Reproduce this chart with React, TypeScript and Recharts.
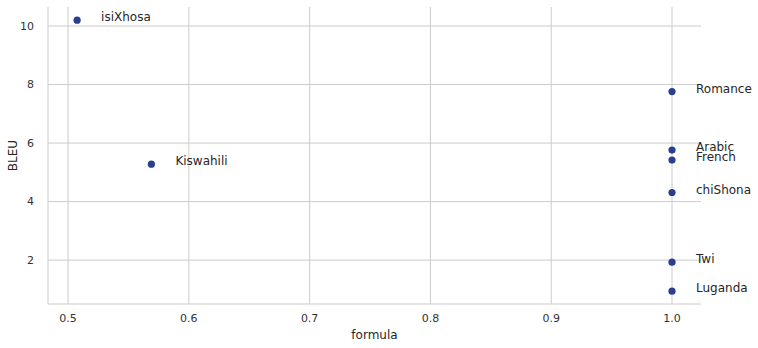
import { ReferenceLine, Scatter, ScatterChart, XAxis, YAxis } from "recharts"

// languages and their scores
const languages = ["isiXhosa", "Kiswahili", "Romance", "Arabic", "French", "chiShona", "Twi", "Luganda"]
const formulaValues = [0.5075, 0.569, 1.0, 1.0, 1.0, 1.0, 1.0, 1.0]
const bleuValues = [10.2, 5.28, 7.76, 5.76, 5.42, 4.31, 1.93, 0.94]
const xTicks = [0.5, 0.6, 0.7, 0.8, 0.9, 1.0]
const yTicks = [2, 4, 6, 8, 10]

const points = languages.map((name, i) => ({ name, formula: formulaValues[i], bleu: bleuValues[i] }))

const font = "'DejaVu Sans', sans-serif"
const gridColor = "#cccccc"

function LabeledDot(props: any) {
  const { cx, cy, payload } = props
  return (
    <g>
      <circle cx={cx} cy={cy} r={3.6} fill="#2b3f8f" />
      <text x={cx + 24} y={cy - 3} fontSize={12} fontFamily={font} fill="#262626" dominantBaseline="central">
        {payload.name}
      </text>
    </g>
  )
}

export default function App() {
  return (
    <div style={{ position: "absolute", left: 0, top: 0, background: "#fff" }}>
      <ScatterChart width={758} height={348} margin={{ top: 7, right: 57, left: 0, bottom: 0 }}>
        {/* grid only at the ticks, no box around the plot */}
        {xTicks.map((t) => (
          <ReferenceLine key={"x" + t} x={t} stroke={gridColor} strokeWidth={1} />
        ))}
        {yTicks.map((t) => (
          <ReferenceLine key={"y" + t} y={t} stroke={gridColor} strokeWidth={1} />
        ))}
        <XAxis
          type="number"
          dataKey="formula"
          domain={[0.4834, 1.024]}
          ticks={xTicks}
          tickFormatter={(v) => v.toFixed(1)}
          height={44}
          tickLine={false}
          axisLine={{ stroke: gridColor }}
          tick={{ fontSize: 11, fontFamily: font, fill: "#333" }}
          tickMargin={4}
          label={{ value: "formula", position: "insideBottom", offset: 9, style: { fontSize: 12, fontFamily: font, fill: "#262626" } }}
        />
        <YAxis
          type="number"
          dataKey="bleu"
          domain={[0.5, 10.65]}
          ticks={yTicks}
          width={48}
          tickLine={false}
          axisLine={{ stroke: gridColor }}
          tick={{ fontSize: 11, fontFamily: font, fill: "#333" }}
          tickMargin={8}
          label={{
            value: "BLEU",
            angle: -90,
            position: "insideLeft",
            offset: 13,
            style: { textAnchor: "middle", fontSize: 12, fontFamily: font, fill: "#262626" },
          }}
        />
        <Scatter data={points} shape={<LabeledDot />} isAnimationActive={false} />
      </ScatterChart>
    </div>
  )
}
